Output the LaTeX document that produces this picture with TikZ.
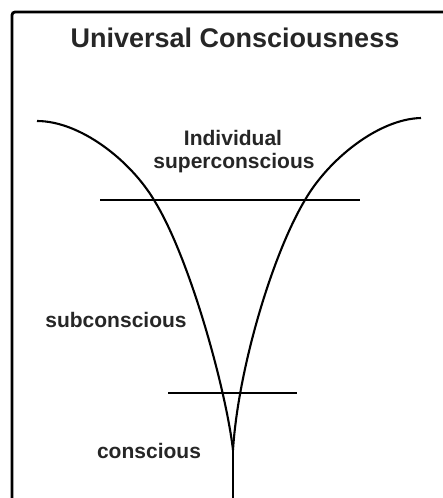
\documentclass[tikz,border=0pt]{standalone}
\usepackage{fontspec}
\setmainfont{Liberation Sans}
\begin{document}
\begin{tikzpicture}[x=1pt,y=-1pt,
  curve/.style={line width=2.1pt,line join=round},
  level/.style={line width=2.6pt},
  frame/.style={line width=2.8pt,rounded corners=3pt},
  title/.style={font=\fontsize{27}{30}\selectfont\bfseries,text=black!85,inner sep=0pt,anchor=base},
  label/.style={font=\fontsize{21}{24}\selectfont\bfseries,text=black!85,inner sep=0pt,anchor=base}]
\useasboundingbox (0,0) rectangle (443,498);
% frame
\draw[frame] (12,500) -- (12,12) -- (445,12);
% title
\node[title] (t) at (235,47) {Universal Consciousness};
% funnel curves
\coordinate (tipA) at (233,450);
\coordinate (tipB) at (233,500);
\draw[curve] (37,121) .. controls (80,121) and (130,160) .. (154,200)
  .. controls (190,258) and (226,390) .. (tipA);
\draw[curve] (421,118) .. controls (378,119) and (328,160) .. (305,200)
  .. controls (272,255) and (238,370) .. (tipA);
\draw[curve] (tipA) -- (tipB);
% levels
\coordinate (l1a) at (100,200); \coordinate (l1b) at (360,200);
\coordinate (l2a) at (168,393); \coordinate (l2b) at (297,393);
\draw[level] (l1a) -- (l1b);
\draw[level] (l2a) -- (l2b);
% labels
\node[label] (ind) at (233,145) {Individual};
\node[label] (sup) at (234,168) {superconscious};
\node[label] (sub) at (116,327) {subconscious};
\node[label] (con) at (149,458) {conscious};
\end{tikzpicture}
\end{document}
